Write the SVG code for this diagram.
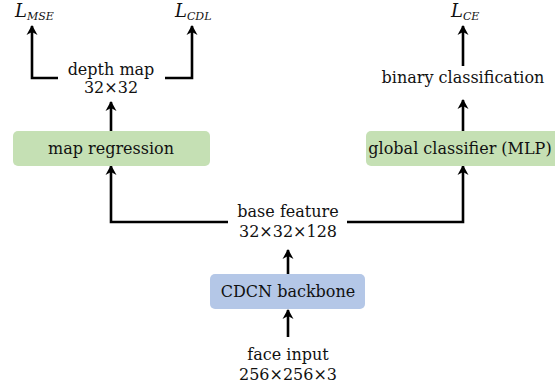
<svg xmlns="http://www.w3.org/2000/svg" width="555" height="389" viewBox="0 0 555 389">
<defs>
<marker id="ah" markerWidth="12" markerHeight="12" refX="9" refY="6" orient="auto" markerUnits="userSpaceOnUse">
<path d="M0,0.5 L10,6 L0,11.5 L3,6 Z" fill="#000"/>
</marker>
<style>
.t{font-family:"DejaVu Serif","Liberation Serif",serif;font-size:16px;fill:#111;text-anchor:middle}
.L{font-family:"DejaVu Serif","Liberation Serif",serif;font-style:italic;fill:#111}
.c{fill:none;stroke:#000;stroke-width:2.6}
.a{marker-end:url(#ah)}
.g{fill:#c5e0b4}
.b{fill:#b4c7e7}
</style>
</defs>
<rect width="555" height="389" fill="#fff"/>
<g id="connectors">
<path class="c a" d="M58,78 H32 V26"/>
<path class="c a" d="M165,78 H192 V26"/>
<path class="c a" d="M111,131 V102"/>
<path class="c a" d="M463,66 V26"/>
<path class="c a" d="M463,131 V100"/>
<path class="c a" d="M228,222 H111 V166"/>
<path class="c a" d="M347,222 H463 V166"/>
<path class="c a" d="M288,274 V250"/>
<path class="c a" d="M288,337 V310"/>
</g>
<g id="loss-mse"><text class="L" x="15" y="17" font-size="18">L<tspan font-size="11" dy="3">MSE</tspan></text></g>
<g id="loss-cdl"><text class="L" x="175" y="17" font-size="18">L<tspan font-size="11" dy="3">CDL</tspan></text></g>
<g id="loss-ce"><text class="L" x="451" y="17" font-size="18">L<tspan font-size="11" dy="3">CE</tspan></text></g>
<g id="depth-map"><text class="t" x="111" y="75">depth map</text><text class="t" x="111" y="93">32×32</text></g>
<g id="binary-classification"><text class="t" x="463" y="83">binary classification</text></g>
<g id="map-regression"><rect class="g" x="13" y="131" width="197" height="35" rx="5"/><text class="t" x="111" y="154">map regression</text></g>
<g id="global-classifier"><rect class="g" x="366" y="131" width="196" height="35" rx="5"/><text class="t" x="460" y="154">global classifier (MLP)</text></g>
<g id="base-feature"><text class="t" x="288" y="217">base feature</text><text class="t" x="288" y="237">32×32×128</text></g>
<g id="cdcn-backbone"><rect class="b" x="210" y="274" width="155" height="35" rx="5"/><text class="t" x="288" y="297">CDCN backbone</text></g>
<g id="face-input"><text class="t" x="288" y="360">face input</text><text class="t" x="288" y="380">256×256×3</text></g>
</svg>
